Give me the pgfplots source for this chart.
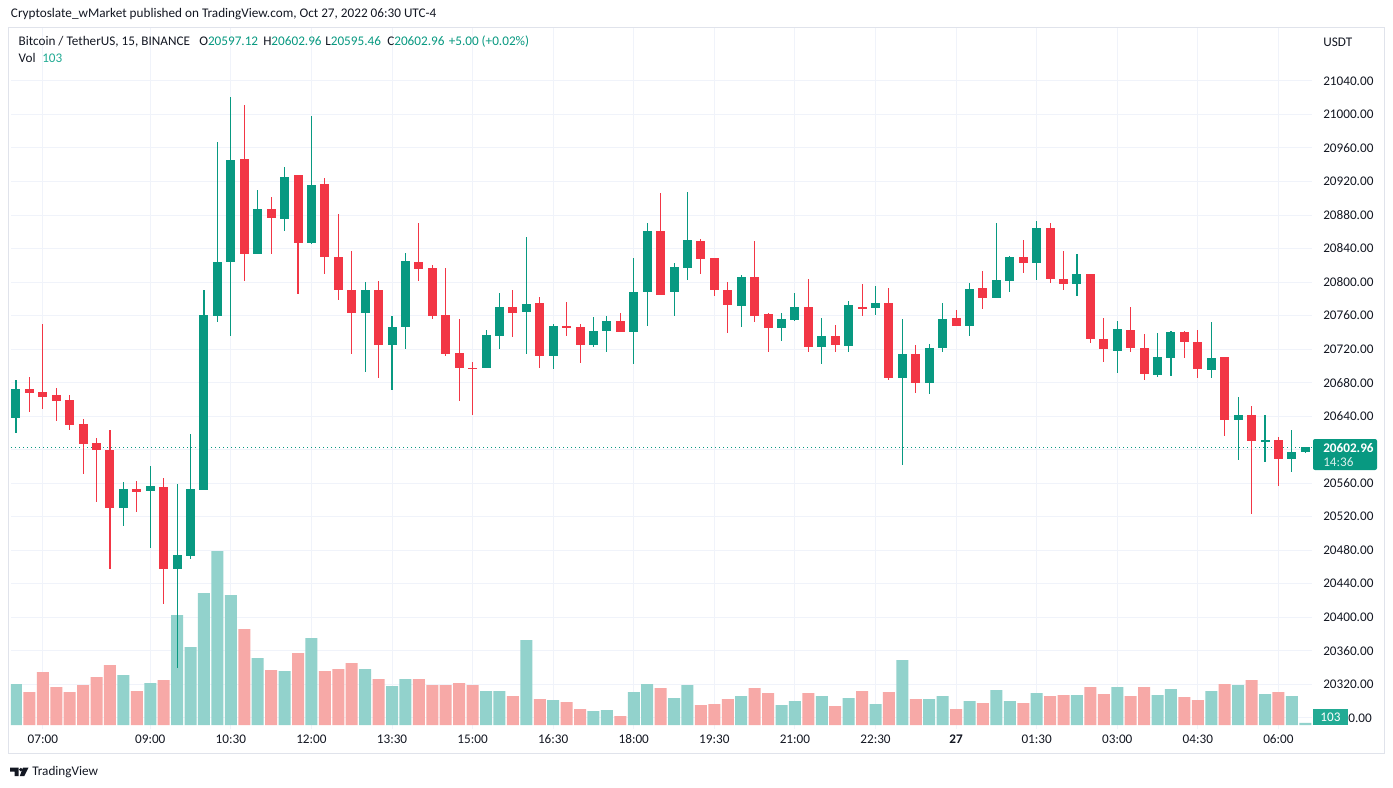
\documentclass[border=0pt]{standalone}
\usepackage{fontspec}
\setmainfont{Carlito}
\usepackage{pgfplots}
\usepackage{pgfplotstable}
\pgfplotsset{compat=1.18}
\definecolor{upc}{HTML}{089981}
\definecolor{dnc}{HTML}{F23645}
\definecolor{upv}{HTML}{92D2CC}
\definecolor{dnv}{HTML}{F7A9A7}
\definecolor{txt}{HTML}{131722}
\definecolor{gridc}{HTML}{F0F3FA}
\definecolor{framec}{HTML}{E0E3EB}
\definecolor{volc}{HTML}{22AB94}
\newcommand\fs[1]{\fontsize{#1}{#1}\selectfont}

% i open high low close volume
\pgfplotstableread{
i o h l c v
0 20638 20683 20620 20672 2091
8 20530 20561 20509 20553 2550
10 20550 20581 20482 20556 2142
12 20457 20559 20340 20474 5610
13 20473 20619 20470 20553 3978
14 20552 20790 20552 20761 6732
15 20760 20967 20752 20824 8874
16 20824 21021 20735 20946 6630
18 20834 20910 20833 20887 3417
20 20875 20937 20861 20926 2754
22 20847 20998 20845 20916 4437
26 20763 20800 20693 20790 2856
28 20725 20759 20671 20746 1989
29 20746 20835 20720 20825 2346
35 20697 20743 20697 20737 1734
36 20736 20787 20720 20770 1734
38 20764 20854 20714 20774 4335
40 20712 20750 20696 20748 1275
43 20725 20758 20722 20742 714
44 20742 20759 20717 20754 765
46 20740 20829 20702 20788 1683
47 20788 20871 20748 20861 2091
49 20788 20823 20760 20818 1377
50 20817 20908 20802 20850 2040
54 20772 20808 20747 20806 1479
57 20745 20763 20730 20756 1020
58 20755 20787 20753 20770 1224
60 20723 20757 20702 20736 1479
62 20724 20777 20716 20772 1377
64 20769 20795 20761 20775 1071
66 20685 20756 20582 20714 3315
68 20679 20726 20666 20721 1326
69 20721 20775 20716 20756 1479
71 20748 20799 20736 20792 1224
73 20781 20871 20781 20802 1785
74 20801 20831 20788 20830 1224
76 20823 20873 20802 20864 1632
79 20798 20834 20784 20810 1530
82 20718 20754 20691 20744 1938
85 20689 20739 20687 20710 1530
86 20710 20742 20688 20741 1836
89 20695 20752 20685 20710 1734
91 20635 20663 20588 20641 2040
93 20609 20641 20585 20612 1581
95 20589 20623 20573 20597 1479
96 20597.12 20602.96 20595.46 20602.96 103
}\up

\pgfplotstableread{
i o h l c v
1 20672 20687 20645 20668 1683
2 20669 20750 20648 20663 2703
3 20665 20674 20634 20658 1938
4 20659 20665 20624 20630 1683
5 20631 20636 20571 20607 2040
6 20608 20614 20538 20599 2448
7 20600 20623 20457 20530 3060
9 20553 20563 20526 20549 1734
11 20556 20566 20416 20457 2295
17 20947 21011 20801 20834 4896
19 20887 20902 20833 20876 2805
21 20928 20928 20786 20847 3672
23 20917 20924 20810 20830 2754
24 20830 20881 20778 20790 2856
25 20790 20837 20714 20763 3162
27 20790 20801 20685 20725 2346
30 20824 20871 20801 20816 2346
31 20817 20820 20756 20760 2040
32 20761 20817 20712 20714 2040
33 20715 20756 20658 20697 2142
34 20698 20705 20641 20696 2040
37 20770 20790 20734 20763 1479
39 20775 20782 20698 20712 1326
41 20748 20776 20735 20745 1173
42 20746 20750 20703 20725 816
45 20753 20763 20740 20740 459
48 20861 20906 20785 20785 1887
51 20849 20851 20810 20828 1020
52 20829 20829 20783 20790 1071
53 20790 20800 20739 20772 1326
55 20806 20849 20752 20760 1887
56 20762 20763 20717 20745 1632
59 20770 20804 20716 20722 1632
61 20736 20749 20717 20725 969
63 20770 20798 20759 20768 1734
65 20775 20793 20683 20685 1683
67 20714 20725 20668 20679 1326
70 20757 20767 20747 20747 816
72 20793 20813 20768 20781 1122
75 20830 20850 20811 20823 1122
77 20865 20871 20799 20804 1479
78 20804 20837 20790 20798 1530
80 20810 20810 20727 20732 1938
81 20732 20757 20705 20720 1581
83 20743 20770 20717 20721 1479
84 20721 20738 20683 20690 1938
87 20740 20742 20709 20729 1428
88 20729 20743 20685 20696 1275
90 20710 20711 20616 20635 2091
92 20641 20652 20523 20610 2295
94 20612 20615 20556 20589 1683
}\dn

\pgfplotsset{myaxis/.style={scale only axis, width=975.75pt, height=525.75pt,
  at={(8.25pt,-546.75pt)}, anchor=south west, xmin=-0.37, xmax=96.5,
  scaled y ticks=false, scaled x ticks=false}}

\begin{document}
\begin{tikzpicture}
\begin{scope}[x=0.75pt,y=-0.75pt]
\path[use as bounding box] (0,0) rectangle (1393,788);
\fill[white] (0,0) rectangle (1393,788);
\end{scope}

% axis 1: grid and tick labels
\begin{axis}[myaxis, ymin=20266.5, ymax=21103.2,
  xtick={2,10,16,22,28,34,40,46,52,58,64,70,76,82,88,94},
  xticklabels={07:00,09:00,10:30,12:00,13:30,15:00,16:30,18:00,19:30,21:00,22:30,\textbf{27},01:30,03:00,04:30,06:00},
  ytick={20280,20320,20360,20400,20440,20480,20520,20560,20600,20640,20680,20720,20760,20800,20840,20880,20920,20960,21000,21040},
  yticklabels={,20320.00,20360.00,20400.00,20440.00,20480.00,20520.00,20560.00,,20640.00,20680.00,20720.00,20760.00,20800.00,20840.00,20880.00,20920.00,20960.00,21000.00,21040.00},
  grid=major, major grid style={gridc, line width=0.75pt},
  axis line style={draw=none}, major tick length=0pt,
  yticklabel pos=right,
  yticklabel style={anchor=west, inner sep=0pt, xshift=8.25pt, font=\fs{9.9}, text=txt},
  xticklabel style={anchor=base, inner sep=0pt, yshift=-10.9pt, font=\fs{9.9}, text=txt}]
\addplot[draw=none] coordinates {(0,20600)};
\end{axis}

% axis 2: volume
\begin{axis}[myaxis, hide axis, ymin=-204, ymax=35547, ybar, bar width=9pt, bar shift=0pt]
\addplot[fill=upv, draw=none] table[x=i,y=v]{\up};
\addplot[fill=dnv, draw=none] table[x=i,y=v]{\dn};
\end{axis}

% axis 3: candles
\begin{axis}[myaxis, hide axis, ymin=20266.5, ymax=21103.2]
\addplot[upc, line width=0.75pt, dash pattern=on 0.75pt off 2.25pt] coordinates {(-0.37,20602.96) (96.5,20602.96)};
\addplot[draw=none, mark=none, error bars/.cd, y dir=both, y explicit, error mark=none,
  error bar style={draw=upc, line width=0.8pt}]
  table[x=i, y expr={(\thisrow{h}+\thisrow{l})/2}, y error expr={(\thisrow{h}-\thisrow{l})/2}]{\up};
\addplot[draw=none, mark=none, error bars/.cd, y dir=both, y explicit, error mark=none,
  error bar style={draw=dnc, line width=0.8pt}]
  table[x=i, y expr={(\thisrow{h}+\thisrow{l})/2}, y error expr={(\thisrow{h}-\thisrow{l})/2}]{\dn};
\addplot[draw=none, mark=none, error bars/.cd, y dir=both, y explicit, error mark=none,
  error bar style={draw=upc, line width=6.75pt}]
  table[x=i, y expr={(\thisrow{o}+\thisrow{c})/2}, y error expr={max(abs(\thisrow{o}-\thisrow{c})/2,0.6)}]{\up};
\addplot[draw=none, mark=none, error bars/.cd, y dir=both, y explicit, error mark=none,
  error bar style={draw=dnc, line width=6.75pt}]
  table[x=i, y expr={(\thisrow{o}+\thisrow{c})/2}, y error expr={max(abs(\thisrow{o}-\thisrow{c})/2,0.6)}]{\dn};
\end{axis}

\begin{scope}[x=0.75pt,y=-0.75pt]
% frame
\draw[framec, line width=1.1pt] (8.5,27.5) rectangle (1384.5,753.5);
% header
\node[anchor=base west, inner sep=0pt, font=\fs{9.9}, text=txt] at (10.7,18) {Cryptoslate\_wMarket published on TradingView.com, Oct 27, 2022 06:30 UTC-4};
% legend
\node[anchor=base west, inner sep=0pt, font=\fs{9.9}, text=txt] at (18.4,46) {Bitcoin / TetherUS, 15, BINANCE};
\node[anchor=base west, inner sep=0pt, font=\fs{9.9}, text=txt] at (199,46) {O\textcolor{upc}{20597.12}};
\node[anchor=base west, inner sep=0pt, font=\fs{9.9}, text=txt] at (263,46) {H\textcolor{upc}{20602.96}};
\node[anchor=base west, inner sep=0pt, font=\fs{9.9}, text=txt] at (325,46) {L\textcolor{upc}{20595.46}};
\node[anchor=base west, inner sep=0pt, font=\fs{9.9}, text=txt] at (387,46) {C\textcolor{upc}{20602.96}};
\node[anchor=base west, inner sep=0pt, font=\fs{9.9}, text=upc] at (448.5,46) {+5.00 (+0.02\%)};
\node[anchor=base west, inner sep=0pt, font=\fs{9.9}, text=txt] at (18.4,63) {Vol};
\node[anchor=base west, inner sep=0pt, font=\fs{9.9}, text=volc] at (42,63) {103};
% USDT
\node[anchor=base west, inner sep=0pt, font=\fs{9.9}, text=txt] at (1323,46.5) {USDT};
% price label
\fill[upc, rounded corners=1.5pt] (1313,439) rectangle (1377,470);
\node[anchor=base west, inner sep=0pt, font=\fs{9.9}\bfseries, text=white] at (1323,452) {20602.96};
\node[anchor=base west, inner sep=0pt, font=\fs{9.9}, text=white!85!upc] at (1323,466) {14:36};
% volume label and the visible part of the covered 20280.00 label
\fill[volc] (1313,709) rectangle (1348,725);
\node[anchor=center, inner sep=0pt, font=\fs{9.9}, text=white] at (1330.5,717) {103};
\node[anchor=east, inner sep=0pt, font=\fs{9.9}, text=txt] at (1372,718) {0.00};
% logo
\fill[txt] (10,767.5) -- (18.5,767.5) -- (18.5,776) -- (14.5,776) -- (14.5,771.5) -- (10,771.5) -- cycle;
\fill[txt] (20.8,769.6) circle (1.9);
\fill[txt] (23,767.5) -- (28.5,767.5) -- (24.3,776) -- (19.8,776) -- cycle;
\node[anchor=base west, inner sep=0pt, font=\fs{9.9}, text=txt] at (32,775.5) {TradingView};
\end{scope}
\end{tikzpicture}
\end{document}
